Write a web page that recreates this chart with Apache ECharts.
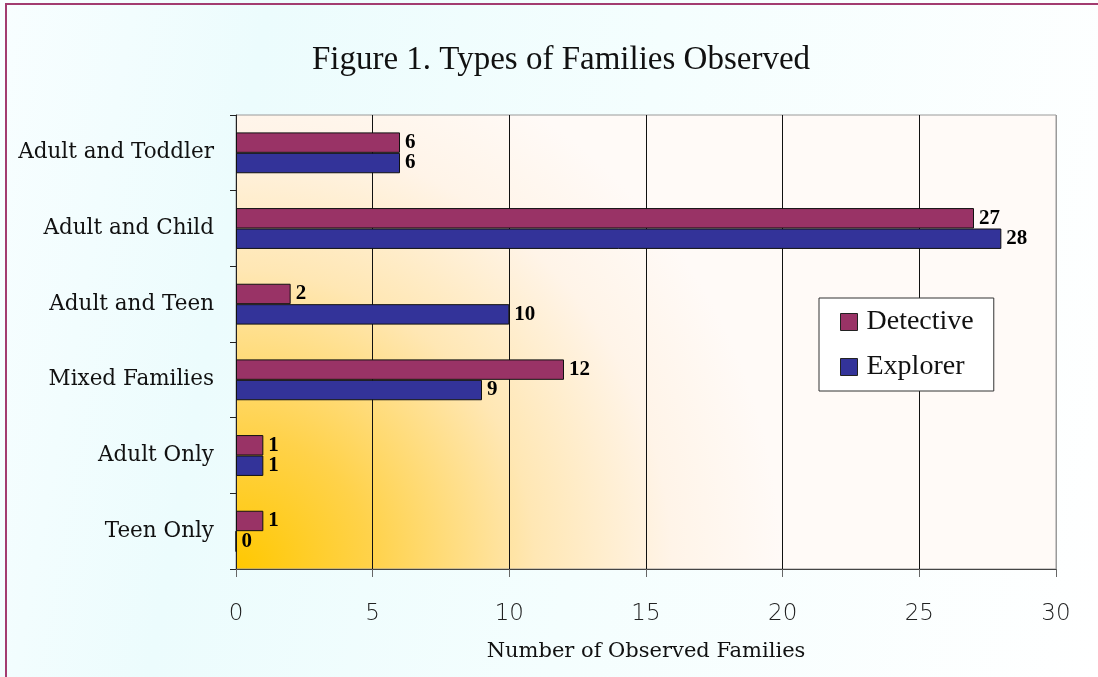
<!DOCTYPE html>
<html>
<head>
<meta charset="utf-8">
<script src="https://cdn.jsdelivr.net/npm/echarts@6/dist/echarts.min.js"></script>
<style>
  html, body { margin: 0; padding: 0; }
  #chart {
    width: 1098px; height: 677px;
    background: linear-gradient(100deg, #f8feff 0%, #ecfcfd 22%, #f4fefe 55%, #ffffff 100%);
  }
</style>
</head>
<body>
<div id="chart"></div>
<script>
// Family types, listed top to bottom
const categories = ['Adult and Toddler', 'Adult and Child', 'Adult and Teen', 'Mixed Families', 'Adult Only', 'Teen Only'];
const detective = [6, 27, 2, 12, 1, 1];
const explorer = [6, 28, 10, 9, 1, 0];
const xTicks = [0, 5, 10, 15, 20, 25, 30];

const serif = '"Liberation Serif", "DejaVu Serif", serif';
const slab = '"DejaVu Serif", "Liberation Serif", serif';

const chart = echarts.init(document.getElementById('chart'), null, { renderer: 'canvas' });

const valueLabel = {
  show: true,
  position: 'right',
  distance: 5,
  fontFamily: serif,
  fontWeight: 'bold',
  fontSize: 21,
  color: '#000'
};

chart.setOption({
  backgroundColor: 'transparent',
  animation: false,
  title: {
    text: 'Figure 1. Types of Families Observed',
    left: 556,
    textAlign: 'center',
    top: 39,
    textStyle: { fontFamily: serif, fontWeight: 'normal', fontSize: 33, color: '#111' }
  },
  graphic: [{
    type: 'rect',
    shape: { x: 6, y: 4, width: 1300, height: 900 },
    style: { fill: 'none', stroke: '#a23c70', lineWidth: 2 },
    silent: true
  }],
  legend: {
    orient: 'vertical',
    left: 819,
    top: 298,
    data: ['Detective', 'Explorer'],
    backgroundColor: '#ffffff',
    borderColor: '#333',
    borderWidth: 1,
    padding: [10, 20, 10, 21],
    itemWidth: 17,
    itemHeight: 17,
    itemGap: 17,
    icon: 'rect',
    itemStyle: { borderColor: '#222', borderWidth: 1 },
    textStyle: { fontFamily: serif, fontSize: 28, color: '#111', padding: [0, 0, 0, 4] }
  },
  grid: {
    left: 236, top: 115, width: 820, height: 454,
    show: true,
    borderColor: '#9a9a9a',
    borderWidth: 1,
    backgroundColor: {
      type: 'radial', x: 0, y: 1, r: 1.2,
      colorStops: [
        { offset: 0, color: '#ffc800' },
        { offset: 0.25, color: '#ffd24a' },
        { offset: 0.55, color: '#ffe7b4' },
        { offset: 0.8, color: '#fff4e8' },
        { offset: 1, color: '#fffaf7' }
      ]
    }
  },
  xAxis: {
    type: 'value',
    min: xTicks[0],
    max: xTicks[xTicks.length - 1],
    interval: 5,
    name: 'Number of Observed Families',
    nameLocation: 'middle',
    nameGap: 72,
    nameTextStyle: { fontFamily: slab, fontWeight: 300, fontSize: 21, color: '#111' },
    axisLine: { show: true, lineStyle: { color: '#444', width: 1 } },
    axisTick: { show: true, length: 8, lineStyle: { color: '#666' } },
    axisLabel: { margin: 34, fontFamily: '"DejaVu Sans", sans-serif', fontWeight: 200, fontSize: 23, color: '#222' },
    splitLine: { show: true, lineStyle: { color: ['#111', '#111', '#111', '#111', '#111', '#111', '#9a9a9a'], width: 1 } }
  },
  yAxis: {
    type: 'category',
    data: categories,
    inverse: true,
    axisLine: { show: true, lineStyle: { color: '#222', width: 1 } },
    axisTick: { show: true, length: 6, lineStyle: { color: '#222' } },
    axisLabel: { margin: 22, padding: [5, 0, 0, 0], fontFamily: slab, fontWeight: 300, fontSize: 21.5, color: '#111' },
    splitLine: { show: false }
  },
  series: [
    {
      name: 'Detective',
      type: 'bar',
      data: detective,
      barGap: '0%',
      barCategoryGap: '46%',
      itemStyle: { color: '#993366', borderColor: '#111', borderWidth: 1 },
      label: valueLabel
    },
    {
      name: 'Explorer',
      type: 'bar',
      data: explorer,
      itemStyle: { color: '#333399', borderColor: '#111', borderWidth: 1 },
      label: valueLabel
    }
  ]
});
</script>
</body>
</html>
